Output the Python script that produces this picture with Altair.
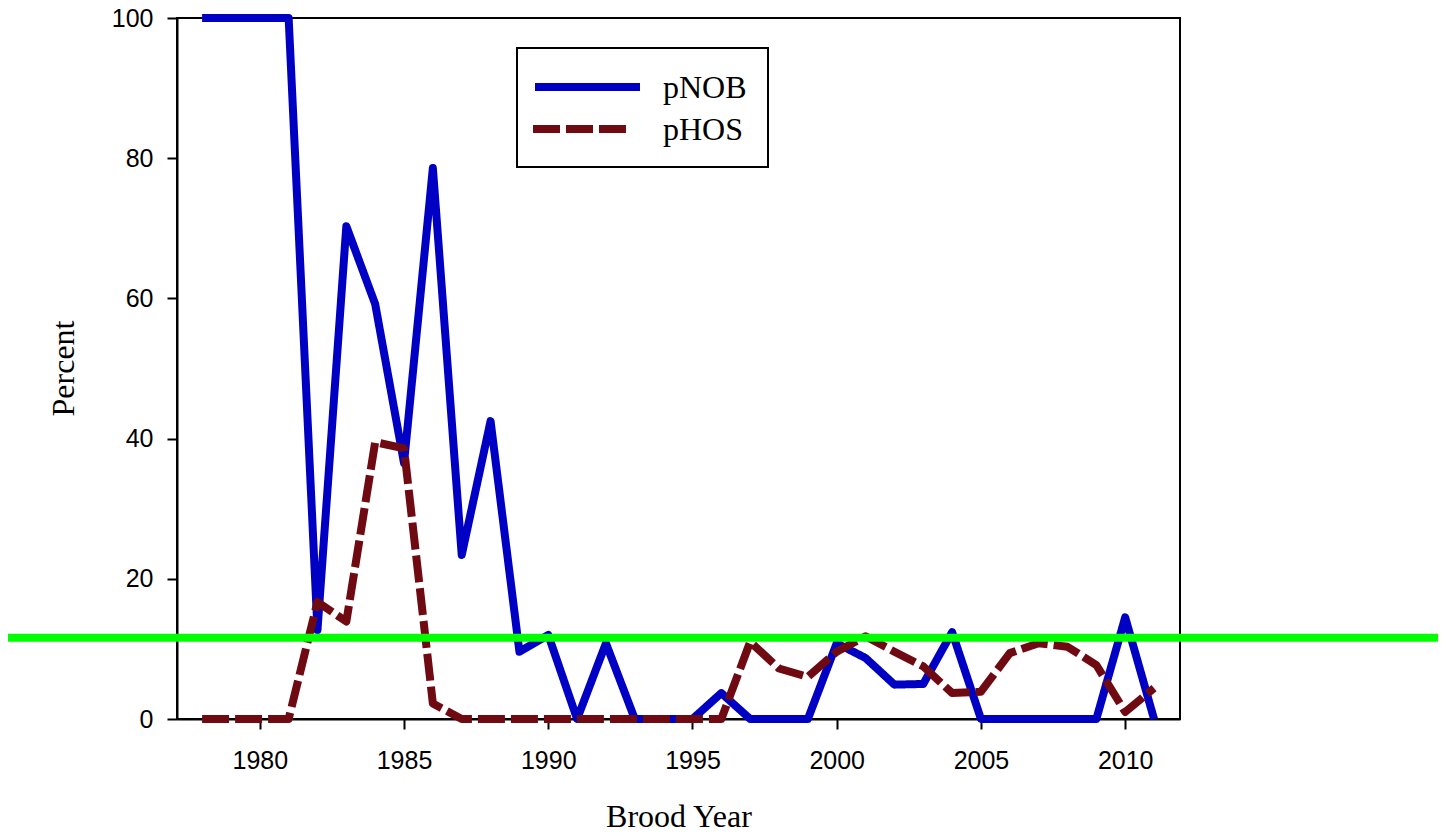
import altair as alt
import pandas as pd

# ---- data ----
years = list(range(1978, 2012))
pnob = [100, 100, 100, 100, 12.7, 70.3, 59.2, 36.5, 78.6, 23.4, 42.5, 9.6, 12.0, 0,
        10.8, 0, 0, 0, 3.7, 0, 0, 0, 10.8, 8.7, 4.9, 5.0, 12.4, 0, 0, 0, 0, 0, 14.5, 0]
phos = [0, 0, 0, 0, 16.7, 13.9, 39.5, 38.6, 2.2, 0, 0, 0, 0, 0, 0, 0, 0, 0, 0,
        11.0, 7.2, 6.0, 9.6, 11.8, 9.6, 7.5, 3.7, 3.9, 9.4, 10.8, 10.3, 7.7, 1.0, 4.4]
series_names = ["pNOB", "pHOS"]
series_colors = ["#0000C4", "#6F0A12"]
series_dashes = [[1, 0], [27, 6]]
green_level = 11.6
x_ticks = [1980, 1985, 1990, 1995, 2000, 2005, 2010]
y_ticks = [0, 20, 40, 60, 80, 100]

df = pd.DataFrame({
    "Year": years * 2,
    "Percent": pnob + phos,
    "Series": ["pNOB"] * len(years) + ["pHOS"] * len(years),
})
legend_df = pd.DataFrame({"Series": series_names})
box_df = pd.DataFrame({"k": [0]})

W, H = 1003, 701
PAD = {"left": 169, "top": 10, "right": 258, "bottom": 109}
LW = 8

color_scale = alt.Scale(domain=series_names, range=series_colors)
dash_scale = alt.Scale(domain=series_names, range=series_dashes)

x_enc = alt.X("Year:Q",
              scale=alt.Scale(domain=[1977.13, 2011.9], nice=False, zero=False),
              axis=alt.Axis(values=x_ticks, format="d", title="Brood Year",
                            titleY=107, titleBaseline="alphabetic",
                            labelPadding=19))
y_enc = alt.Y("Percent:Q",
              scale=alt.Scale(domain=[0, 100], nice=False),
              axis=alt.Axis(values=y_ticks, title="Percent",
                            titleX=-104, titleY=350, titleAngle=-90,
                            titleBaseline="alphabetic", titleAlign="center",
                            labelPadding=14))

def series_line(name):
    return alt.Chart(df).transform_filter(alt.datum.Series == name).mark_line(
        strokeWidth=LW, strokeCap="butt", strokeJoin="round"
    ).encode(
        x=x_enc, y=y_enc,
        color=alt.Color("Series:N", scale=color_scale, legend=None),
        strokeDash=alt.StrokeDash("Series:N", scale=dash_scale, legend=None),
    )

green = alt.Chart(box_df).mark_rule(color="#00FF00", strokeWidth=8).encode(
    y=alt.datum(green_level),
    x=alt.value(-PAD["left"]),
    x2=alt.value(W + PAD["right"]),
)

legend_box = alt.Chart(box_df).mark_rect(
    fill="white", stroke="black", strokeWidth=2
).encode(
    x=alt.value(340), x2=alt.value(591), y=alt.value(30), y2=alt.value(149)
)

def legend_line(name, y, x1, x2):
    return alt.Chart(legend_df).transform_filter(alt.datum.Series == name).mark_rule(
        strokeWidth=LW, strokeCap="butt"
    ).encode(
        x=alt.value(x1), x2=alt.value(x2), y=alt.value(y),
        color=alt.Color("Series:N", scale=color_scale, legend=None),
        strokeDash=alt.StrokeDash("Series:N", scale=dash_scale, legend=None),
    )

def legend_text(name, y):
    return alt.Chart(legend_df).transform_filter(alt.datum.Series == name).mark_text(
        align="left", baseline="alphabetic", font="Liberation Serif",
        fontSize=32, color="black"
    ).encode(
        x=alt.value(486), y=alt.value(y), text="Series:N"
    )

chart = alt.layer(
    series_line("pNOB"),
    series_line("pHOS"),
    green,
    legend_box,
    legend_line("pNOB", 69, 358, 463),
    legend_line("pHOS", 111, 356, 449),
    legend_text("pNOB", 80),
    legend_text("pHOS", 122),
).properties(
    width=W, height=H,
    autosize=alt.AutoSizeParams(type="none"),
    padding=PAD,
    background="white",
).configure_view(
    stroke="black", strokeWidth=2
).configure_axis(
    grid=False,
    domainColor="black", domainWidth=2,
    tickColor="black", tickWidth=2, tickSize=10,
    labelFont="Liberation Sans", labelFontSize=25, labelColor="black",
    titleFont="Liberation Serif", titleFontSize=32, titleFontWeight="normal",
    titleColor="black",
)

chart.save("out.html", embed_options={"renderer": "svg", "actions": False})
